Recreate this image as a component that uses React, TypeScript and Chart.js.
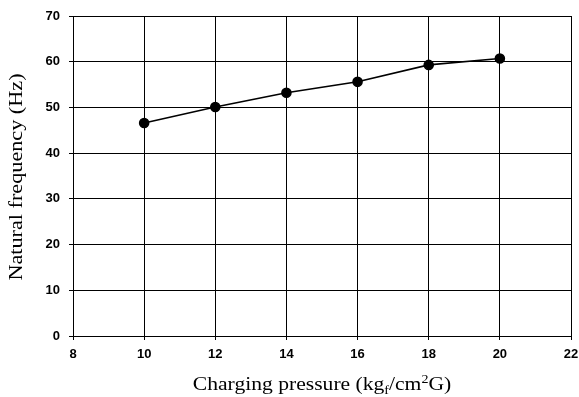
import React, { useEffect, useRef } from "react";
import { Chart, registerables } from "chart.js";

Chart.register(...registerables);

const pressures = [10, 12, 14, 16, 18, 20];
const frequencies = [46.6, 50.1, 53.2, 55.6, 59.3, 60.7];
const xTitleParts = [
  { text: "Charging pressure (kg", mode: "normal" },
  { text: "f", mode: "sub" },
  { text: "/cm", mode: "normal" },
  { text: "2", mode: "sup" },
  { text: "G)", mode: "normal" },
];
const yTitle = "Natural frequency (Hz)";

const SERIF = "'Liberation Serif', 'Times New Roman', serif";
const SANS = "'Liberation Sans', Arial, sans-serif";

const titlesPlugin = {
  id: "customTitles",
  afterDraw(chart: any) {
    const ctx = chart.ctx as CanvasRenderingContext2D;
    const area = chart.chartArea;
    const stretch = 1.2;
    const size = 18;
    ctx.save();
    ctx.fillStyle = "#000";
    ctx.textBaseline = "alphabetic";
    const measure = (p: any) => {
      const s = p.mode === "normal" ? size : size * 0.65;
      ctx.font = `${s}px ${SERIF}`;
      return ctx.measureText(p.text).width;
    };
    const total = xTitleParts.reduce((a, p) => a + measure(p), 0);
    const cx = (area.left + area.right) / 2;
    ctx.save();
    ctx.translate(cx, 390);
    ctx.scale(stretch, 1);
    let x = -total / 2;
    for (const p of xTitleParts) {
      const s = p.mode === "normal" ? size : size * 0.65;
      ctx.font = `${s}px ${SERIF}`;
      const dy = p.mode === "sub" ? 4 : p.mode === "sup" ? -7 : 0;
      ctx.textAlign = "left";
      ctx.fillText(p.text, x, dy);
      x += ctx.measureText(p.text).width;
    }
    ctx.restore();
    ctx.save();
    ctx.translate(22, (area.top + area.bottom) / 2 + 1);
    ctx.rotate(-Math.PI / 2);
    ctx.scale(stretch, 1);
    ctx.font = `${size + 0.5}px ${SERIF}`;
    ctx.textAlign = "center";
    ctx.fillText(yTitle, 0, 0);
    ctx.restore();
    ctx.restore();
  },
};

export default function App() {
  const ref = useRef<HTMLCanvasElement>(null);
  useEffect(() => {
    if (!ref.current) return;
    const chart = new Chart(ref.current, {
      type: "line",
      data: {
        datasets: [
          {
            data: pressures.map((p, i) => ({ x: p, y: frequencies[i] })),
            borderColor: "#000",
            backgroundColor: "#000",
            borderWidth: 1.6,
            pointRadius: 4.5,
            pointBackgroundColor: "#000",
            pointBorderColor: "#000",
            tension: 0,
          },
        ],
      },
      options: {
        animation: false,
        responsive: false,
        maintainAspectRatio: false,
        layout: { padding: { top: 16, right: 8, left: 0, bottom: 0 } },
        plugins: {
          legend: { display: false },
          tooltip: { enabled: false },
          title: { display: false },
        },
        scales: {
          x: {
            type: "linear",
            min: 8,
            max: 22,
            ticks: {
              stepSize: 2,
              color: "#000",
              font: { family: SANS, size: 13, weight: "bold" },
              padding: 7,
              maxRotation: 0,
            },
            grid: { color: "#000", lineWidth: 1, tickLength: 4 },
            border: { color: "#000", width: 1 },
            afterFit: (s: any) => {
              s.height = 61;
              s.paddingLeft = 0;
              s.paddingRight = 0;
            },
          },
          y: {
            type: "linear",
            min: 0,
            max: 70,
            ticks: {
              stepSize: 10,
              color: "#000",
              font: { family: SANS, size: 13, weight: "bold" },
              padding: 9,
            },
            grid: { color: "#000", lineWidth: 1, tickLength: 4 },
            border: { color: "#000", width: 1 },
            afterFit: (s: any) => {
              s.width = 73;
              s.paddingTop = 0;
              s.paddingBottom = 0;
            },
          },
        },
      },
      plugins: [titlesPlugin],
    });
    return () => chart.destroy();
  }, []);
  return (
    <div style={{ position: "fixed", left: 0, top: 0, width: 579, height: 397, background: "#fff" }}>
      <canvas ref={ref} width={579} height={397} style={{ display: "block", width: 579, height: 397 }} />
    </div>
  );
}
